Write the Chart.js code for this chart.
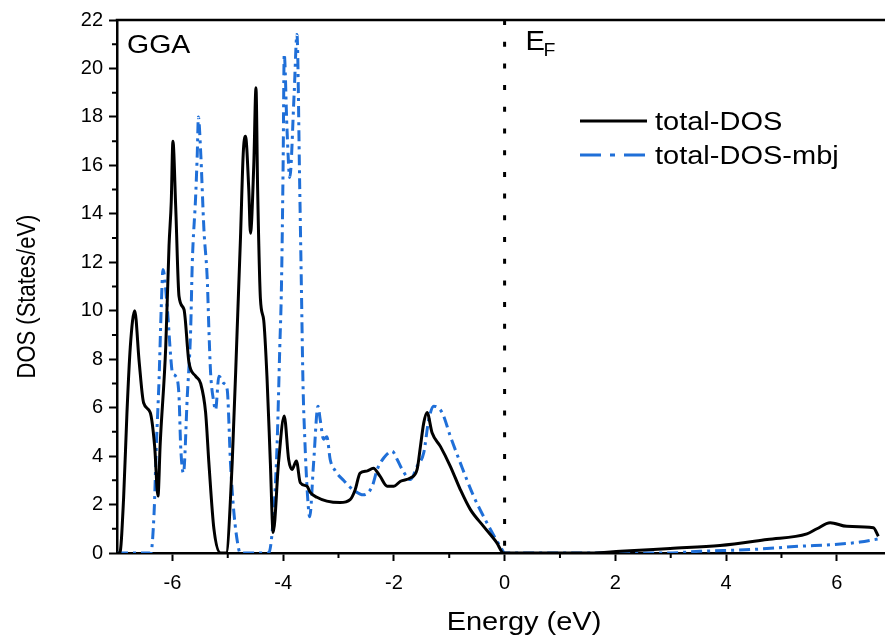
<!DOCTYPE html>
<html>
<head>
<meta charset="utf-8">
<script src="https://cdn.jsdelivr.net/npm/chart.js@4.4.1/dist/chart.umd.min.js"></script>
<style>
  html, body { margin: 0; padding: 0; background: #fff; }
  #wrap { width: 885px; height: 641px; }
</style>
</head>
<body>
<div id="wrap"><canvas id="dosChart" width="885" height="641"></canvas></div>
<script>
// total-DOS (GGA), energy in eV, DOS in States/eV
const energyGGA = [-7.0, -6.95, -6.88, -6.82, -6.76, -6.68, -6.60, -6.52, -6.40, -6.32, -6.26, -6.22, -6.12, -6.06, -6.02, -5.99,
  -5.94, -5.88, -5.79, -5.70, -5.58, -5.49, -5.40, -5.34, -5.25, -5.13, -5.03, -4.92, -4.83, -4.77, -4.72, -4.68,
  -4.62, -4.59, -4.53, -4.49, -4.46, -4.41, -4.35, -4.29, -4.23, -4.18, -4.08, -3.98, -3.90, -3.84, -3.76, -3.69,
  -3.57, -3.51, -3.39, -3.21, -2.97, -2.79, -2.70, -2.61, -2.49, -2.37, -2.25, -2.12, -2.00, -1.88, -1.70, -1.58,
  -1.52, -1.46, -1.40, -1.31, -1.16, -0.98, -0.80, -0.62, -0.38, -0.14, -0.02, 1.54, 2.09, 2.99, 3.89, 4.74,
  5.46, 5.64, 5.88, 6.18, 6.66, 6.75];
const dosGGA = [0, 0, 2.3, 5.8, 8.5, 10.0, 7.9, 6.2, 5.8, 4.4, 2.35, 4.5, 8.5, 12.7, 14.5, 17.0,
  14.3, 10.6, 10.05, 7.86, 7.3, 7.0, 5.8, 3.7, 1.0, 0, 0, 3.7, 9.2, 13.0, 16.5, 17.2,
  15.0, 13.2, 16.0, 19.2, 15.0, 10.5, 9.6, 7.2, 3.7, 0.85, 3.8, 5.65, 3.86, 3.45, 3.8, 2.9,
  2.76, 2.5, 2.3, 2.14, 2.08, 2.2, 2.6, 3.3, 3.38, 3.5, 3.17, 2.76, 2.76, 2.96, 3.1, 3.45,
  4.4, 5.37, 5.8, 4.96, 4.4, 3.58, 2.62, 1.8, 1.1, 0.42, 0, 0, 0.07, 0.19, 0.31, 0.56,
  0.79, 1.0, 1.25, 1.1, 1.04, 0.69];

// total-DOS-mbj
const energyMbj = [-7.0, -6.39, -6.33, -6.29, -6.24, -6.20, -6.17, -6.09, -6.03, -6.00, -5.94, -5.88, -5.85, -5.80, -5.73, -5.67,
  -5.64, -5.58, -5.55, -5.53, -5.49, -5.43, -5.37, -5.34, -5.31, -5.25, -5.22, -5.16, -5.07, -5.01, -4.95, -4.89,
  -4.80, -4.77, -4.26, -4.17, -4.11, -4.06, -4.03, -4.00, -3.98, -3.93, -3.88, -3.80, -3.75, -3.70, -3.67, -3.64,
  -3.61, -3.56, -3.52, -3.45, -3.37, -3.33, -3.27, -3.21, -3.15, -3.06, -2.91, -2.73, -2.55, -2.39, -2.30, -2.18,
  -2.03, -1.94, -1.85, -1.70, -1.58, -1.46, -1.37, -1.28, -1.13, -0.98, -0.80, -0.56, -0.32, -0.08, 0.01, 2.93,
  3.53, 4.43, 5.33, 5.94, 6.42, 6.75, 6.80];
const dosMbj = [0, 0, 1.67, 4.4, 7.2, 10.2, 11.7, 10.05, 8.1, 7.45, 7.3, 6.47, 4.4, 3.3, 6.5, 9.2,
  12.0, 14.7, 16.5, 18.0, 16.6, 13.35, 11.3, 9.2, 7.45, 6.2, 5.9, 7.3, 7.0, 6.75, 3.7, 1.7,
  0.14, 0, 0, 1.67, 4.4, 8.5, 11.0, 16.0, 20.6, 17.5, 15.5, 19.0, 21.4, 15.1, 11.0, 6.9,
  4.8, 2.4, 1.5, 3.7, 6.06, 5.5, 4.7, 4.8, 3.86, 3.4, 3.0, 2.6, 2.4, 2.76, 3.45, 3.93,
  4.2, 3.86, 3.45, 3.03, 3.58, 4.14, 5.5, 6.06, 5.8, 4.82, 3.72, 2.35, 1.25, 0.28, 0, 0,
  0.07, 0.14, 0.28, 0.35, 0.45, 0.58, 0.6];

// Fermi level marker
const fermiEnergy = [0, 0];
const fermiDos = [22, 0];

const seriesNames = ['total-DOS', 'total-DOS-mbj'];
const xMajorTicks = [-6, -4, -2, 0, 2, 4, 6];
const xMinorTicks = [-5, -3, -1, 1, 3, 5];
const yMajorTicks = [0, 2, 4, 6, 8, 10, 12, 14, 16, 18, 20, 22];
const yMinorTicks = [1, 3, 5, 7, 9, 11, 13, 15, 17, 19, 21];

const FONT = '"Liberation Sans", Arial, Helvetica, sans-serif';
const BLUE = '#1f6fd8';
const mbjDash = [11, 5, 3, 5];

function toPoints(xs, ys) {
  return xs.map((v, i) => ({ x: v, y: ys[i] }));
}

function stretchText(ctx, text, x, y, size, sx, align) {
  ctx.save();
  ctx.font = size + 'px ' + FONT;
  ctx.fillStyle = '#000';
  ctx.textAlign = align || 'left';
  ctx.textBaseline = 'alphabetic';
  ctx.translate(x, y);
  ctx.scale(sx, 1);
  ctx.fillText(text, 0, 0);
  ctx.restore();
}

const decorPlugin = {
  id: 'decor',
  afterDraw(chart) {
    const { ctx, chartArea: a, scales: { x, y } } = chart;
    ctx.save();
    // top frame line
    ctx.strokeStyle = '#000';
    ctx.lineWidth = 2.5;
    ctx.beginPath();
    ctx.moveTo(a.left - 1.25, a.top);
    ctx.lineTo(a.right, a.top);
    ctx.stroke();

    // minor ticks
    ctx.lineWidth = 2;
    ctx.beginPath();
    xMinorTicks.forEach(v => {
      const px = x.getPixelForValue(v);
      ctx.moveTo(px, a.bottom);
      ctx.lineTo(px, a.bottom + 5);
    });
    yMinorTicks.forEach(v => {
      const py = y.getPixelForValue(v);
      ctx.moveTo(a.left, py);
      ctx.lineTo(a.left - 5, py);
    });
    ctx.stroke();
    ctx.restore();

    // in-plot labels
    stretchText(ctx, 'GGA', a.left + 10, a.top + 33, 25, 1.14);
    const xf = x.getPixelForValue(0);
    stretchText(ctx, 'E', xf + 21, a.top + 30, 27, 1.08);
    stretchText(ctx, 'F', xf + 39, a.top + 36, 18, 1.08);

    // legend
    const lx = a.left + 463, ly = a.top + 101;
    ctx.save();
    ctx.lineWidth = 3;
    ctx.strokeStyle = '#000';
    ctx.beginPath();
    ctx.moveTo(lx, ly);
    ctx.lineTo(lx + 67, ly);
    ctx.stroke();
    ctx.strokeStyle = BLUE;
    ctx.setLineDash([21, 9, 5, 9]);
    ctx.beginPath();
    ctx.moveTo(lx, ly + 34);
    ctx.lineTo(lx + 67, ly + 34);
    ctx.stroke();
    ctx.restore();
    stretchText(ctx, seriesNames[0], lx + 75, ly + 8.5, 25, 1.16);
    stretchText(ctx, seriesNames[1], lx + 75, ly + 42.5, 25, 1.16);

    // axis titles
    stretchText(ctx, 'Energy (eV)', 524, 630, 25, 1.16, 'center');
    ctx.save();
    ctx.font = '22px ' + FONT;
    ctx.fillStyle = '#000';
    ctx.textAlign = 'center';
    ctx.textBaseline = 'middle';
    ctx.translate(28, (a.top + a.bottom) / 2 + 10);
    ctx.rotate(-Math.PI / 2);
    ctx.scale(1, 1.15);
    ctx.fillText('DOS (States/eV)', 0, 0);
    ctx.restore();
  }
};

const axisCommon = {
  type: 'linear',
  border: { display: true, color: '#000', width: 2.5 },
  grid: { drawOnChartArea: false, drawTicks: true, tickLength: 8, tickWidth: 2, tickColor: '#000' },
  title: { display: false }
};

new Chart(document.getElementById('dosChart'), {
  type: 'line',
  data: {
    datasets: [
      {
        label: seriesNames[0],
        data: toPoints(energyGGA, dosGGA),
        borderColor: '#000',
        borderWidth: 3,
        pointRadius: 0,
        cubicInterpolationMode: 'monotone',
        order: 0
      },
      {
        label: seriesNames[1],
        data: toPoints(energyMbj, dosMbj),
        borderColor: BLUE,
        borderWidth: 3,
        borderDash: mbjDash,
        pointRadius: 0,
        cubicInterpolationMode: 'monotone',
        order: 1
      },
      {
        label: 'EF',
        data: toPoints(fermiEnergy, fermiDos),
        borderColor: '#000',
        borderWidth: 3,
        borderDash: [5, 16.7],
        pointRadius: 0,
        order: 2
      }
    ]
  },
  options: {
    responsive: false,
    animation: false,
    devicePixelRatio: 1,
    layout: { padding: { top: 20, right: 0, left: 0, bottom: 0 } },
    plugins: { legend: { display: false }, tooltip: { enabled: false } },
    scales: {
      x: {
        ...axisCommon,
        position: 'bottom',
        min: -7,
        max: 6.87,
        afterFit(s) { s.height = 88; },
        afterBuildTicks(s) { s.ticks = xMajorTicks.map(v => ({ value: v })); },
        ticks: { color: '#000', font: { size: 20, family: FONT }, padding: 10, autoSkip: false, maxRotation: 0, includeBounds: false }
      },
      y: {
        ...axisCommon,
        position: 'left',
        min: 0,
        max: 22,
        afterFit(s) { s.width = 117; },
        afterBuildTicks(s) { s.ticks = yMajorTicks.map(v => ({ value: v })); },
        ticks: { color: '#000', font: { size: 20, family: FONT }, padding: 6, autoSkip: false }
      }
    }
  },
  plugins: [decorPlugin]
});
</script>
</body>
</html>
